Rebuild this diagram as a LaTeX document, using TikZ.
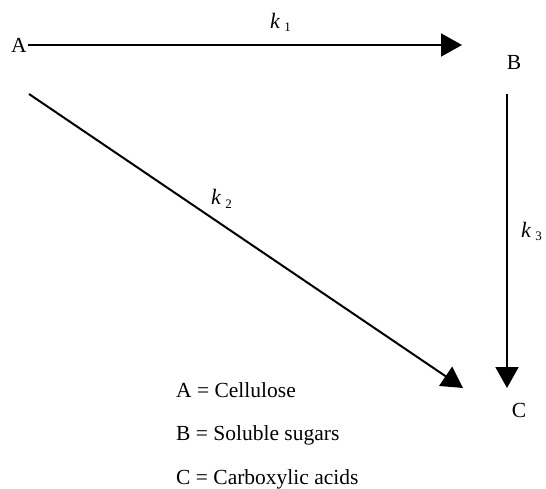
\documentclass[tikz,border=0pt]{standalone}
\usepackage{fontspec}
\setmainfont{Liberation Serif}
\usetikzlibrary{arrows.meta}
\newcommand{\rate}[1]{\textit{k}\hspace{4pt}\raisebox{-3pt}{\fontsize{13}{14}\selectfont #1}}
\tikzset{
  species/.style={font=\fontsize{21.5}{25}\selectfont, inner sep=1pt},
  ratelbl/.style={font=\fontsize{22}{25}\selectfont, anchor=base west, inner sep=0pt},
  legend/.style={font=\fontsize{21.5}{25}\selectfont, anchor=base west, inner sep=0pt},
  rxn/.style={-{Triangle[length=21pt,width=23pt]}, line width=2pt, black}
}

\begin{document}
\begin{tikzpicture}[x=1pt,y=-1pt]
\useasboundingbox (0,0) rectangle (546,489);

% species
\node[species] (A) at (19,45) {A};
\node[species] (B) at (514,62) {B};
\node[species] (C) at (519,410) {C};

% arrow ends
\coordinate (ab-tip) at (462,45);
\coordinate (ac-tail) at (29,94);
\coordinate (ac-tip) at (463,388);
\coordinate (bc-tail) at (507,94);
\coordinate (bc-tip) at (507,388);

% reactions
\draw[rxn] (A.east) -- (ab-tip);
\draw[rxn] (ac-tail) -- (ac-tip);
\draw[rxn] (bc-tail) -- (bc-tip);

\node[ratelbl] (k1) at (270,29) {\rate{1}};
\node[ratelbl] (k2) at (211,205) {\rate{2}};
\node[ratelbl] (k3) at (521,237) {\rate{3}};

% legend
\node[legend] (lA) at (176,397) {A = Cellulose};
\node[legend] (lB) at (176,440.5) {B = Soluble sugars};
\node[legend] (lC) at (176,484) {C = Carboxylic acids};

\end{tikzpicture}
\end{document}
